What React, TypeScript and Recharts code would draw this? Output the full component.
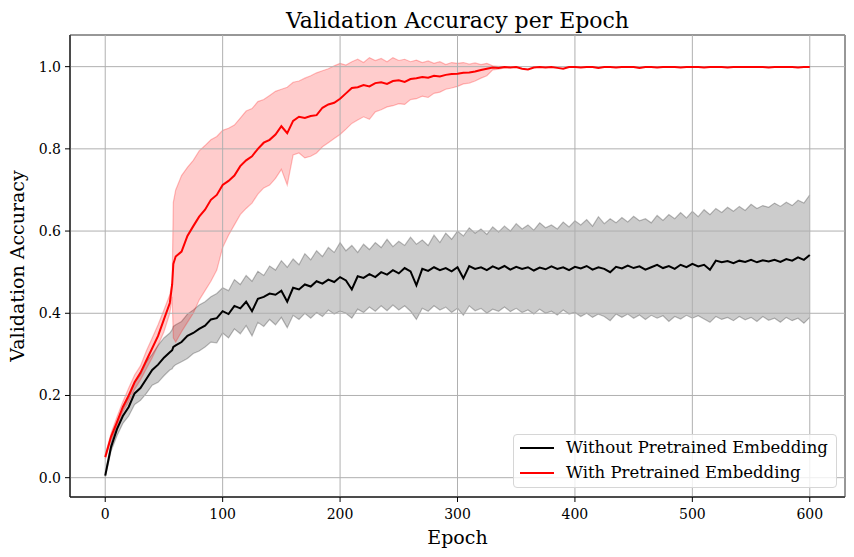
import React from 'react';
import { ComposedChart, Area, Line, XAxis, YAxis, CartesianGrid, ReferenceArea, Legend } from 'recharts';

// epochs sampled every 5 (plus 57/58 where the pretrained band jumps)
const epochs = [
  0, 5, 10, 15, 20, 25, 30, 35, 40, 45, 50, 55, 57, 58,
  60, 65, 70, 75, 80, 85, 90, 95,
  100, 105, 110, 115, 120, 125, 130, 135, 140, 145,
  150, 155, 160, 165, 170, 175, 180, 185, 190, 195,
  200, 205, 210, 215, 220, 225, 230, 235, 240, 245,
  250, 255, 260, 265, 270, 275, 280, 285, 290, 295,
  300, 305, 310, 315, 320, 325, 330, 335, 340, 345,
  350, 355, 360, 365, 370, 375, 380, 385, 390, 395,
  400, 405, 410, 415, 420, 425, 430, 435, 440, 445,
  450, 455, 460, 465, 470, 475, 480, 485, 490, 495,
  500, 505, 510, 515, 520, 525, 530, 535, 540, 545,
  550, 555, 560, 565, 570, 575, 580, 585, 590, 595,
  600,
];

// without pretrained embedding: mean, mean+std, mean-std
const noMean = [
  0.005, 0.075, 0.118, 0.150, 0.172, 0.205, 0.218, 0.240, 0.262, 0.275, 0.292, 0.305, 0.310, 0.318,
  0.322, 0.330, 0.345, 0.352, 0.362, 0.370, 0.385, 0.388,
  0.405, 0.398, 0.418, 0.412, 0.428, 0.405, 0.435, 0.440, 0.448, 0.445,
  0.455, 0.428, 0.462, 0.458, 0.470, 0.465, 0.478, 0.472, 0.482, 0.476,
  0.488, 0.480, 0.458, 0.490, 0.486, 0.495, 0.488, 0.500, 0.494, 0.505,
  0.497, 0.510, 0.502, 0.468, 0.508, 0.503, 0.512, 0.505, 0.510, 0.502,
  0.512, 0.485, 0.515, 0.508, 0.512, 0.505, 0.514, 0.508, 0.515, 0.506,
  0.513, 0.508, 0.512, 0.504, 0.511, 0.507, 0.514, 0.508, 0.512, 0.505,
  0.513, 0.509, 0.515, 0.506, 0.512, 0.508, 0.500, 0.513, 0.509, 0.516,
  0.510, 0.514, 0.506, 0.512, 0.518, 0.510, 0.515, 0.508, 0.518, 0.512,
  0.520, 0.514, 0.518, 0.506, 0.528, 0.524, 0.527, 0.522, 0.528, 0.525,
  0.530, 0.524, 0.529, 0.526, 0.530, 0.525, 0.532, 0.528, 0.536, 0.530,
  0.542,
];
const noHi = [
  0.012, 0.085, 0.135, 0.168, 0.195, 0.232, 0.250, 0.282, 0.300, 0.322, 0.340, 0.352, 0.360, 0.368,
  0.372, 0.380, 0.398, 0.408, 0.420, 0.428, 0.440, 0.448,
  0.462, 0.455, 0.482, 0.470, 0.492, 0.478, 0.502, 0.492, 0.515, 0.505,
  0.528, 0.512, 0.532, 0.518, 0.545, 0.530, 0.552, 0.538, 0.560, 0.548,
  0.572, 0.552, 0.565, 0.548, 0.568, 0.555, 0.572, 0.560, 0.580, 0.562,
  0.575, 0.565, 0.585, 0.568, 0.578, 0.565, 0.590, 0.572, 0.595, 0.580,
  0.600, 0.588, 0.608, 0.595, 0.605, 0.592, 0.610, 0.598, 0.612, 0.600,
  0.618, 0.605, 0.615, 0.602, 0.620, 0.608, 0.615, 0.605, 0.622, 0.610,
  0.625, 0.615, 0.628, 0.612, 0.635, 0.618, 0.630, 0.620, 0.633, 0.622,
  0.636, 0.625, 0.630, 0.620, 0.638, 0.626, 0.640, 0.630, 0.645, 0.632,
  0.648, 0.635, 0.652, 0.640, 0.655, 0.645, 0.658, 0.648, 0.660, 0.650,
  0.665, 0.655, 0.662, 0.658, 0.668, 0.660, 0.670, 0.662, 0.675, 0.668,
  0.688,
];
const noLo = [
  0.000, 0.065, 0.102, 0.132, 0.150, 0.178, 0.188, 0.205, 0.225, 0.232, 0.248, 0.262, 0.265, 0.270,
  0.275, 0.282, 0.290, 0.302, 0.308, 0.318, 0.330, 0.328,
  0.352, 0.340, 0.362, 0.350, 0.370, 0.345, 0.378, 0.368, 0.385, 0.372,
  0.390, 0.365, 0.395, 0.385, 0.400, 0.388, 0.402, 0.392, 0.408, 0.398,
  0.405, 0.400, 0.388, 0.410, 0.402, 0.415, 0.405, 0.418, 0.406, 0.420,
  0.408, 0.418, 0.405, 0.385, 0.412, 0.405, 0.418, 0.408, 0.415, 0.402,
  0.412, 0.395, 0.418, 0.406, 0.412, 0.400, 0.410, 0.405, 0.415, 0.404,
  0.412, 0.402, 0.408, 0.398, 0.410, 0.400, 0.405, 0.396, 0.408, 0.398,
  0.402, 0.392, 0.400, 0.390, 0.398, 0.392, 0.382, 0.398, 0.390, 0.398,
  0.388, 0.396, 0.385, 0.395, 0.388, 0.394, 0.380, 0.392, 0.386, 0.395,
  0.388, 0.394, 0.386, 0.378, 0.392, 0.385, 0.390, 0.382, 0.392, 0.384,
  0.390, 0.380, 0.392, 0.383, 0.388, 0.378, 0.390, 0.382, 0.388, 0.376,
  0.390,
];

// with pretrained embedding: mean over all epochs, band only until it collapses (~345)
const wMean = [
  0.050, 0.100, 0.135, 0.172, 0.200, 0.232, 0.255, 0.285, 0.315, 0.345, 0.385, 0.425, 0.470, 0.520,
  0.538, 0.550, 0.588, 0.612, 0.635, 0.652, 0.676, 0.688,
  0.712, 0.722, 0.735, 0.758, 0.772, 0.782, 0.800, 0.815, 0.822, 0.835,
  0.855, 0.838, 0.868, 0.878, 0.875, 0.880, 0.882, 0.900, 0.908, 0.912,
  0.922, 0.935, 0.948, 0.950, 0.955, 0.952, 0.960, 0.962, 0.958, 0.965,
  0.967, 0.963, 0.970, 0.972, 0.975, 0.973, 0.978, 0.976, 0.980, 0.982,
  0.983, 0.985, 0.986, 0.988, 0.992, 0.995, 0.998, 0.997, 0.999, 0.998,
  0.999, 0.995, 0.993, 0.998, 0.999, 0.998, 0.999, 0.997, 0.995, 0.999,
  0.999, 0.998, 0.999, 0.999, 0.997, 0.999, 0.999, 0.998, 0.999, 0.999,
  0.999, 0.997, 0.999, 0.999, 0.998, 0.999, 0.999, 0.999, 0.998, 0.999,
  0.999, 0.999, 0.998, 0.999, 0.999, 0.999, 0.998, 0.999, 0.999, 0.999,
  0.999, 0.999, 0.999, 0.998, 0.999, 0.999, 0.999, 0.999, 0.998, 0.999,
  0.999,
];
const wHi = [
  0.055, 0.108, 0.148, 0.185, 0.218, 0.250, 0.272, 0.308, 0.340, 0.372, 0.408, 0.445, 0.475, 0.670,
  0.700, 0.735, 0.755, 0.772, 0.795, 0.808, 0.822, 0.830,
  0.845, 0.850, 0.858, 0.875, 0.892, 0.898, 0.915, 0.920, 0.930, 0.940,
  0.945, 0.950, 0.962, 0.965, 0.972, 0.978, 0.985, 0.990, 0.995, 1.002,
  1.008, 1.004, 1.012, 1.018, 1.010, 1.022, 1.015, 1.020, 1.012, 1.022,
  1.015, 1.018, 1.012, 1.016, 1.010, 1.014, 1.008, 1.012, 1.005, 1.010,
  1.008, 1.010, 1.006, 1.009, 1.005, 1.008, 1.002, 1.001, 1.000, 0.999,
];
const wLo = [
  0.045, 0.092, 0.125, 0.160, 0.185, 0.215, 0.238, 0.265, 0.292, 0.322, 0.355, 0.400, 0.440, 0.340,
  0.330, 0.355, 0.378, 0.400, 0.432, 0.455, 0.478, 0.505,
  0.560, 0.590, 0.615, 0.640, 0.655, 0.668, 0.690, 0.705, 0.712, 0.728,
  0.750, 0.712, 0.785, 0.790, 0.778, 0.782, 0.790, 0.805, 0.815, 0.825,
  0.835, 0.848, 0.862, 0.870, 0.878, 0.872, 0.890, 0.895, 0.902, 0.905,
  0.910, 0.908, 0.920, 0.922, 0.928, 0.925, 0.935, 0.938, 0.945, 0.948,
  0.952, 0.958, 0.960, 0.965, 0.972, 0.978, 0.992, 0.994, 0.997, 0.997,
];

const xTicks = [0, 100, 200, 300, 400, 500, 600];
const yTicks = [0, 0.2, 0.4, 0.6, 0.8, 1.0];
const legendItems = [
  { name: 'Without Pretrained Embedding', color: '#000000' },
  { name: 'With Pretrained Embedding', color: '#ff0000' },
];

const FONT = '"DejaVu Serif", serif';
const X_DOMAIN: [number, number] = [-30, 630];
const Y_DOMAIN: [number, number] = [-0.047, 1.077];

const data = epochs.map((epoch, i) => ({
  epoch,
  noMean: noMean[i],
  noBand: [noLo[i], noHi[i]],
  wMean: wMean[i],
  wBand: i < wHi.length ? [wLo[i], wHi[i]] : null,
}));

const renderLegend = () => (
  <div style={{
    position: 'relative',
    width: 324,
    height: 54,
    boxSizing: 'border-box',
    border: '1px solid #d6d6d6',
    borderRadius: 4,
    background: 'rgba(255,255,255,0.8)',
    fontFamily: FONT,
    fontSize: 16.5,
    color: '#000',
  }}>
    {legendItems.map((item, i) => (
      <div key={item.name} style={{ position: 'absolute', left: 0, top: 2 + i * 25, height: 22, width: '100%' }}>
        <div style={{ position: 'absolute', left: 6, top: 10, width: 34, height: 2, background: item.color }} />
        <div style={{ position: 'absolute', left: 52, top: 0, lineHeight: '22px', whiteSpace: 'nowrap' }}>{item.name}</div>
      </div>
    ))}
  </div>
);

const App: React.FC = () => {
  return (
    <div style={{ position: 'absolute', left: 0, top: 0, width: 854, height: 557, background: '#fff' }}>
      <div style={{
        position: 'absolute', left: 70, top: 10, width: 775, textAlign: 'center',
        fontFamily: FONT, fontSize: 22, lineHeight: '22px', color: '#000'
      }}>
        Validation Accuracy per Epoch
      </div>
      <ComposedChart width={854} height={557} data={data} margin={{ top: 35, right: 9, bottom: 0, left: 0 }}>
        <XAxis
          dataKey="epoch"
          type="number"
          domain={X_DOMAIN}
          ticks={xTicks}
          allowDataOverflow
          height={60}
          tickSize={5}
          tickMargin={7}
          stroke="#000"
          tick={{ fontFamily: FONT, fontSize: 14, fill: '#000' }}
          label={{ value: 'Epoch', position: 'insideBottom', offset: 13, style: { fontFamily: FONT, fontSize: 19, fill: '#000' } }}
        />
        <YAxis
          type="number"
          domain={Y_DOMAIN}
          ticks={yTicks}
          allowDataOverflow
          width={70}
          tickSize={5}
          tickMargin={4}
          stroke="#000"
          tickFormatter={(v: number) => v.toFixed(1)}
          tick={{ fontFamily: FONT, fontSize: 14, fill: '#000' }}
          label={{ value: 'Validation Accuracy', angle: -90, position: 'insideLeft', offset: 17, style: { fontFamily: FONT, fontSize: 19, fill: '#000', textAnchor: 'middle' } }}
        />
        <Area type="linear" dataKey="noBand" fill="#000" fillOpacity={0.2} stroke="#000" strokeOpacity={0.25} strokeWidth={1.2} isAnimationActive={false} activeDot={false} />
        <Area type="linear" dataKey="wBand" fill="#ff0000" fillOpacity={0.2} stroke="#ff0000" strokeOpacity={0.25} strokeWidth={1.2} isAnimationActive={false} activeDot={false} />
        <CartesianGrid stroke="#b0b0b0" strokeWidth={1} zIndex={150} />
        <Line type="linear" dataKey="noMean" stroke="#000" strokeWidth={2} dot={false} activeDot={false} isAnimationActive={false} />
        <Line type="linear" dataKey="wMean" stroke="#ff0000" strokeWidth={2} dot={false} activeDot={false} isAnimationActive={false} />
        <ReferenceArea x1={X_DOMAIN[0]} x2={X_DOMAIN[1]} y1={Y_DOMAIN[0]} y2={Y_DOMAIN[1]} fill="none" stroke="#000" strokeWidth={1} ifOverflow="visible" />
        <Legend
          layout="vertical"
          align="center"
          verticalAlign="middle"
          content={renderLegend}
          wrapperStyle={{ position: 'absolute', left: 513, top: 434, width: 324, height: 54 }}
        />
      </ComposedChart>
    </div>
  );
};

export default App;
